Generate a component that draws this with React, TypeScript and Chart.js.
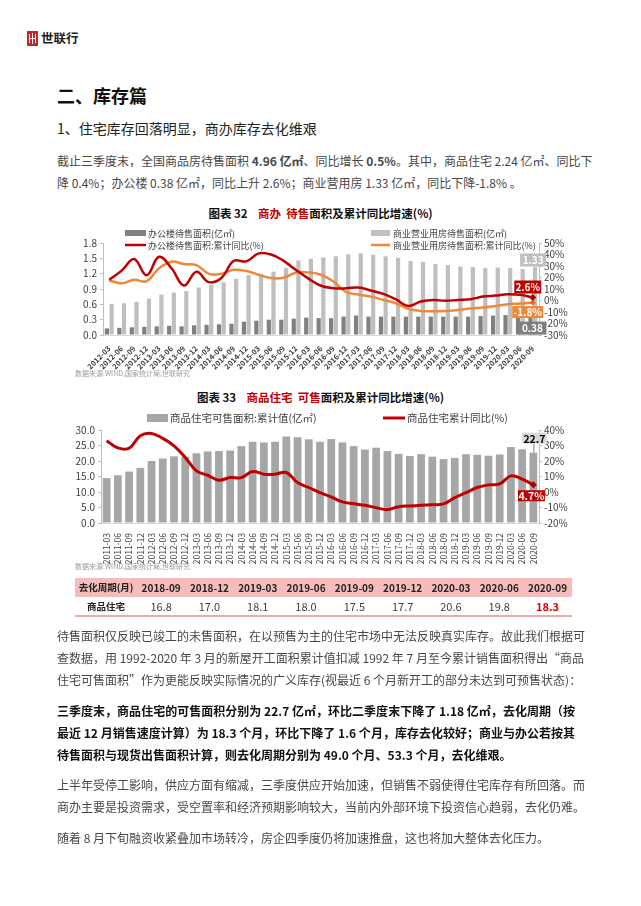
import React, { useEffect, useRef } from "react";
import { Chart, registerables } from "chart.js";
Chart.register(...registerables);

const FONT = '"Noto Sans CJK SC", "Noto Sans", sans-serif';
const TEXT = "#404040";

// ---------- Chart 32 data ----------
const quarters1 = [
  "2012-03", "2012-06", "2012-09", "2012-12",
  "2013-03", "2013-06", "2013-09", "2013-12",
  "2014-03", "2014-06", "2014-09", "2014-12",
  "2015-03", "2015-06", "2015-09", "2015-12",
  "2016-03", "2016-06", "2016-09", "2016-12",
  "2017-03", "2017-06", "2017-09", "2017-12",
  "2018-03", "2018-06", "2018-09", "2018-12",
  "2019-03", "2019-06", "2019-09", "2019-12",
  "2020-03", "2020-06", "2020-09",
];
const officeArea = [
  0.13, 0.14, 0.15, 0.16,
  0.17, 0.18, 0.17, 0.19,
  0.2, 0.21, 0.22, 0.26,
  0.28, 0.3, 0.3, 0.32,
  0.34, 0.33, 0.33, 0.36,
  0.38, 0.36, 0.36, 0.36,
  0.36, 0.36, 0.36, 0.36,
  0.36, 0.36, 0.37, 0.38,
  0.39, 0.38, 0.38,
];
const commercialArea = [
  0.61, 0.62, 0.65, 0.71,
  0.79, 0.83, 0.86, 0.93,
  0.98, 1.03, 1.1, 1.17,
  1.19, 1.24, 1.31, 1.46,
  1.49, 1.52, 1.54, 1.58,
  1.6, 1.57, 1.54, 1.51,
  1.45, 1.43, 1.39, 1.37,
  1.34, 1.33, 1.31, 1.32,
  1.31, 1.29, 1.33,
];
const officeYoY = [
  18, 26, 36, 22,
  38, 28, 13, 25,
  16, 19.5, 34.5, 34,
  41, 40, 34.5, 26.5,
  19, 12.8, 10.7, 10.6,
  11.3, 8.7, 5.8, 1.1,
  -4.7, -0.9, 0.5, -0.3,
  0.5, 1.1, 3.4, 4.3,
  5.5, 4.9, 2.6,
];
const commercialYoY = [
  17.4, 15, 18, 16.8,
  28, 33.7, 31.7, 30.8,
  23.2, 23.2, 26.7, 25.6,
  22.4, 19.5, 19.8, 24.4,
  24.4, 22.4, 16.5, 7.5,
  5.2, 3.4, 0.5, -2.4,
  -7.3, -9.1, -9.3, -9.1,
  -8.2, -7.0, -6.1, -4.7,
  -3.2, -2.7, -1.8,
];

// ---------- Chart 33 data ----------
const quarters2 = [
  "2011-03", "2011-06", "2011-09", "2011-12",
  "2012-03", "2012-06", "2012-09", "2012-12",
  "2013-03", "2013-06", "2013-09", "2013-12",
  "2014-03", "2014-06", "2014-09", "2014-12",
  "2015-03", "2015-06", "2015-09", "2015-12",
  "2016-03", "2016-06", "2016-09", "2016-12",
  "2017-03", "2017-06", "2017-09", "2017-12",
  "2018-03", "2018-06", "2018-09", "2018-12",
  "2019-03", "2019-06", "2019-09", "2019-12",
  "2020-03", "2020-06", "2020-09",
];
const resiArea = [
  14.5, 15.4, 16.6, 17.8,
  20.0, 20.8, 21.5, 21.4,
  22.5, 23.1, 23.2, 23.4,
  24.8, 26.2, 26.0, 26.2,
  27.9, 27.7, 27.0, 26.2,
  27.1, 26.0, 24.8, 23.7,
  24.3, 23.2, 22.3, 21.6,
  22.2, 21.4, 20.6, 21.0,
  22.2, 22.0, 21.7, 22.1,
  24.5, 23.8, 22.7,
];
const resiYoY = [
  33.1, 28.5, 28.2, 36.3,
  37.8, 34.6, 29.8, 22.3,
  13.6, 10.8, 7.6, 9.3,
  9.3, 13.2, 11.5, 11.5,
  12.6, 6.1, 2.9, -0.4,
  -3.2, -6.4, -7.6, -8.6,
  -10.1, -11.4, -9.5, -9.0,
  -8.6, -8.2, -7.7, -3.6,
  -0.4, 2.9, 4.6, 5.2,
  10.4, 8.3, 4.7,
];

// ---------- Table data ----------
const cycleHeader = "去化周期(月)";
const cycleRowLabel = "商品住宅";
const cycleQuarters = ["2018-09", "2018-12", "2019-03", "2019-06", "2019-09", "2019-12", "2020-03", "2020-06", "2020-09"];
const cycleValues = [16.8, 17.0, 18.1, 18.0, 17.5, 17.7, 20.6, 19.8, 18.3];

function drawBox(ctx: CanvasRenderingContext2D, cx: number, cy: number, w: number, h: number, bg: string, text: string, color: string, font: string) {
  ctx.save();
  ctx.fillStyle = bg;
  ctx.fillRect(cx - w / 2, cy - h / 2, w, h);
  ctx.fillStyle = color;
  ctx.font = font;
  ctx.textAlign = "center";
  ctx.textBaseline = "middle";
  ctx.fillText(text, cx, cy + 0.5);
  ctx.restore();
}

function legendText(ctx: CanvasRenderingContext2D, x: number, y: number, text: string, size: number) {
  ctx.save();
  ctx.fillStyle = TEXT;
  ctx.font = `${size}px ${FONT}`;
  ctx.textAlign = "left";
  ctx.textBaseline = "middle";
  ctx.fillText(text, x, y);
  ctx.restore();
}

function Chart32() {
  const ref = useRef<HTMLCanvasElement>(null);
  useEffect(() => {
    const last = quarters1.length - 1;
    const overlay = {
      id: "overlay32",
      afterDraw(chart: any) {
        const ctx = chart.ctx as CanvasRenderingContext2D;
        ctx.save();
        ctx.fillStyle = "#808080";
        ctx.fillRect(85, 5, 21, 6);
        ctx.fillStyle = "#bfbfbf";
        ctx.fillRect(331, 5, 19, 6);
        ctx.lineWidth = 2.5;
        ctx.strokeStyle = "#c00000";
        ctx.beginPath(); ctx.moveTo(85, 20); ctx.lineTo(106, 20); ctx.stroke();
        ctx.strokeStyle = "#f0883a";
        ctx.beginPath(); ctx.moveTo(331, 20); ctx.lineTo(350, 20); ctx.stroke();
        ctx.restore();
        legendText(ctx, 108, 8.5, "办公楼待售面积(亿㎡)", 9);
        legendText(ctx, 108, 20.5, "办公楼待售面积:累计同比(%)", 9);
        legendText(ctx, 353, 8.5, "商业营业用房待售面积(亿㎡)", 9);
        legendText(ctx, 353, 20.5, "商业营业用房待售面积:累计同比(%)", 9);
        const bOffice = chart.getDatasetMeta(0).data[last];
        const bComm = chart.getDatasetMeta(1).data[last];
        const pOffice = chart.getDatasetMeta(2).data[last];
        const pComm = chart.getDatasetMeta(3).data[last];
        const f = `bold 10px ${FONT}`;
        drawBox(ctx, bComm.x - 2, bComm.y - 7, 26, 13, "#bfbfbf", commercialArea[last].toFixed(2), "#ffffff", f);
        drawBox(ctx, bOffice.x + 2, bOffice.y + 12.5, 28, 13, "#7f7f7f", officeArea[last].toFixed(2), "#ffffff", f);
        drawBox(ctx, pOffice.x - 5, pOffice.y - 10.5, 27, 13, "#c00000", officeYoY[last].toFixed(1) + "%", "#ffffff", f);
        drawBox(ctx, pComm.x - 5, pComm.y + 9.5, 31, 12, "#f0883a", commercialYoY[last].toFixed(1) + "%", "#ffffff", f);
      },
    };
    const lastPoint = (arr: number[], r: number) => arr.map((_, i) => (i === arr.length - 1 ? r : 0));
    const chart = new Chart(ref.current as HTMLCanvasElement, {
      type: "bar",
      data: {
        labels: quarters1,
        datasets: [
          { type: "bar", label: "办公楼待售面积(亿㎡)", data: officeArea, backgroundColor: "#808080", yAxisID: "y", order: 2, categoryPercentage: 0.75, barPercentage: 0.9 },
          { type: "bar", label: "商业营业用房待售面积(亿㎡)", data: commercialArea, backgroundColor: "#bfbfbf", yAxisID: "y", order: 2, categoryPercentage: 0.75, barPercentage: 0.9 },
          { type: "line", label: "办公楼待售面积:累计同比(%)", data: officeYoY, borderColor: "#c00000", backgroundColor: "#a00000", borderWidth: 2.5, tension: 0.4, yAxisID: "y1", order: 0, pointRadius: lastPoint(officeYoY, 3.5), pointStyle: "rectRot", pointBorderWidth: 0 },
          { type: "line", label: "商业营业用房待售面积:累计同比(%)", data: commercialYoY, borderColor: "#f0883a", backgroundColor: "#e07020", borderWidth: 2.5, tension: 0.4, yAxisID: "y1", order: 1, pointRadius: lastPoint(commercialYoY, 3), pointStyle: "rectRot", pointBorderWidth: 0 },
        ] as any,
      },
      options: {
        responsive: false,
        animation: false,
        layout: { padding: { top: 18, left: 0, right: 0, bottom: 0 } },
        plugins: { legend: { display: false }, tooltip: { enabled: false } },
        scales: {
          x: {
            grid: { display: false },
            border: { display: true, color: "#d9d9d9" },
            ticks: { autoSkip: false, minRotation: 45, maxRotation: 45, padding: 1, color: TEXT, font: { family: FONT, size: 7.5, weight: "bold" } },
            afterFit: (s: any) => { s.height = 35; },
          },
          y: {
            position: "left",
            min: 0,
            max: 1.8,
            ticks: { autoSkip: false, stepSize: 0.3, padding: 3, color: TEXT, font: { family: FONT, size: 10 }, callback: (v: any) => Number(v).toFixed(1) },
            grid: { drawOnChartArea: false, tickLength: 3, color: "#bfbfbf" },
            border: { display: true, color: "#bfbfbf" },
            afterFit: (s: any) => { s.width = 63; },
          },
          y1: {
            position: "right",
            min: -30,
            max: 50,
            ticks: { autoSkip: false, stepSize: 10, padding: 2, color: TEXT, font: { family: FONT, size: 10 }, callback: (v: any) => Math.round(Number(v)) + "%" },
            grid: { drawOnChartArea: false, tickLength: 3, color: "#bfbfbf" },
            border: { display: true, color: "#bfbfbf" },
            afterFit: (s: any) => { s.width = 61; },
          },
        },
      } as any,
      plugins: [overlay],
    });
    return () => chart.destroy();
  }, []);
  return <canvas ref={ref} width={560} height={145} style={{ position: "absolute", left: 40, top: 225 }} />;
}

function Chart33() {
  const ref = useRef<HTMLCanvasElement>(null);
  useEffect(() => {
    const last = quarters2.length - 1;
    const overlay = {
      id: "overlay33",
      afterDraw(chart: any) {
        const ctx = chart.ctx as CanvasRenderingContext2D;
        ctx.save();
        ctx.fillStyle = "#a6a6a6";
        ctx.fillRect(107, 6, 21, 8);
        ctx.strokeStyle = "#c00000";
        ctx.lineWidth = 3;
        ctx.beginPath(); ctx.moveTo(343, 10); ctx.lineTo(365, 10); ctx.stroke();
        ctx.restore();
        legendText(ctx, 130, 10.5, "商品住宅可售面积:累计值(亿㎡)", 10.5);
        legendText(ctx, 367, 10.5, "商品住宅累计同比(%)", 10.5);
        const b = chart.getDatasetMeta(0).data[last];
        const p = chart.getDatasetMeta(1).data[last];
        ctx.save();
        ctx.strokeStyle = "#7f7f7f";
        ctx.lineWidth = 1;
        ctx.beginPath(); ctx.moveTo(b.x + 0.5, b.y - 9); ctx.lineTo(b.x + 0.5, b.y); ctx.stroke();
        ctx.restore();
        drawBox(ctx, b.x + 1, b.y - 14.5, 25, 11, "#d9d9d9", resiArea[last].toFixed(1), "#000000", `bold 10.5px ${FONT}`);
        drawBox(ctx, p.x - 2, p.y + 11, 27, 11, "#c00000", resiYoY[last].toFixed(1) + "%", "#ffffff", `bold 10.5px ${FONT}`);
      },
    };
    const chart = new Chart(ref.current as HTMLCanvasElement, {
      type: "bar",
      data: {
        labels: quarters2,
        datasets: [
          { type: "bar", label: "商品住宅可售面积:累计值(亿㎡)", data: resiArea, backgroundColor: "#a6a6a6", yAxisID: "y", order: 2, categoryPercentage: 0.69, barPercentage: 1 },
          { type: "line", label: "商品住宅累计同比(%)", data: resiYoY, borderColor: "#c00000", backgroundColor: "#a00000", borderWidth: 3, tension: 0.4, yAxisID: "y1", order: 0, pointRadius: resiYoY.map((_, i) => (i === resiYoY.length - 1 ? 3.5 : 0)), pointStyle: "rectRot", pointBorderWidth: 0 },
        ] as any,
      },
      options: {
        responsive: false,
        animation: false,
        layout: { padding: { top: 22, left: 0, right: 0, bottom: 0 } },
        plugins: { legend: { display: false }, tooltip: { enabled: false } },
        scales: {
          x: {
            grid: { display: false },
            border: { display: true, color: "#d9d9d9" },
            ticks: { autoSkip: false, minRotation: 90, maxRotation: 90, padding: 2, color: TEXT, font: { family: FONT, size: 8.5 } },
            afterFit: (s: any) => { s.height = 42; },
          },
          y: {
            position: "left",
            min: 0,
            max: 30,
            ticks: { autoSkip: false, stepSize: 5, padding: 3, color: TEXT, font: { family: FONT, size: 10 }, callback: (v: any) => Number(v).toFixed(1) },
            grid: { drawOnChartArea: false, tickLength: 3, color: "#bfbfbf" },
            border: { display: true, color: "#bfbfbf" },
            afterFit: (s: any) => { s.width = 61; },
          },
          y1: {
            position: "right",
            min: -20,
            max: 40,
            ticks: { autoSkip: false, stepSize: 10, padding: 2, color: TEXT, font: { family: FONT, size: 10 }, callback: (v: any) => Math.round(Number(v)) + "%" },
            grid: { drawOnChartArea: false, tickLength: 3, color: "#bfbfbf" },
            border: { display: true, color: "#bfbfbf" },
            afterFit: (s: any) => { s.width = 61; },
          },
        },
      } as any,
      plugins: [overlay],
    });
    return () => chart.destroy();
  }, []);
  return <canvas ref={ref} width={560} height={157} style={{ position: "absolute", left: 40, top: 408 }} />;
}

const abs = (left: number, top: number, extra: React.CSSProperties = {}): React.CSSProperties => ({
  position: "absolute",
  left,
  top,
  whiteSpace: "nowrap",
  ...extra,
});

function Line({ top, text, full, bold, color }: { top: number; text: React.ReactNode; full?: boolean; bold?: boolean; color?: string }) {
  return (
    <div
      style={abs(57, top, {
        width: 518,
        fontSize: 12,
        lineHeight: "16px",
        color: color || "#474747",
        fontWeight: bold ? 700 : 400,
        textAlign: full ? "justify" : "left",
        textAlignLast: full ? "justify" : "left",
        whiteSpace: "nowrap",
      } as any)}
    >
      {text}
    </div>
  );
}

export default function App() {
  const colLeft = 75;
  const firstW = 62;
  const colW = 48.3;
  return (
    <div style={{ position: "absolute", left: 0, top: 0, width: 641, height: 906, background: "#fff", fontFamily: FONT, overflow: "hidden" }}>
      <div style={abs(27, 31, { width: 11, height: 15, background: "#c1272d" })}>
        <div style={{ position: "absolute", left: 2, top: 3, width: 1, height: 9, background: "#fff" }} />
        <div style={{ position: "absolute", left: 5, top: 2, width: 1, height: 11, background: "#fff" }} />
        <div style={{ position: "absolute", left: 8, top: 3, width: 1, height: 9, background: "#fff" }} />
        <div style={{ position: "absolute", left: 2, top: 7, width: 7, height: 1, background: "#fff" }} />
      </div>
      <div style={abs(41, 30, { fontSize: 12.5, lineHeight: "16px", fontWeight: 700, color: "#222" })}>世联行</div>

      <div style={abs(57, 85, { fontSize: 18, lineHeight: "20px", fontWeight: 700, color: "#111" })}>二、库存篇</div>
      <div style={abs(57, 119, { fontSize: 14, lineHeight: "18px", color: "#222" })}>1、住宅库存回落明显，商办库存去化维艰</div>

      <Line top={153} full text={<>截止三季度末，全国商品房待售面积 <b>4.96 亿㎡</b>、同比增长 <b>0.5%</b>。其中，商品住宅 2.24 亿㎡、同比下</>} />
      <Line top={175} text="降 0.4%；办公楼 0.38 亿㎡，同比上升 2.6%；商业营用房 1.33 亿㎡，同比下降-1.8% 。" />

      <div style={abs(0, 206, { width: 641, textAlign: "center", fontSize: 11.5, lineHeight: "14px", fontWeight: 700, color: "#111" })}>
        图表 32&nbsp;&nbsp;&nbsp;&nbsp;<span style={{ color: "#c00000" }}>商办</span>&nbsp;&nbsp;<span style={{ color: "#c00000" }}>待售</span>面积及累计同比增速(%)
      </div>
      <Chart32 />
      <div style={abs(75, 368, { fontSize: 7, lineHeight: "10px", color: "#9a9a9a" })}>数据来源:WIND,国家统计局,世联研究</div>

      <div style={abs(0, 390, { width: 641, textAlign: "center", fontSize: 11.5, lineHeight: "14px", fontWeight: 700, color: "#111" })}>
        图表 33&nbsp;&nbsp;&nbsp;&nbsp;<span style={{ color: "#c00000" }}>商品住宅</span>&nbsp;&nbsp;<span style={{ color: "#c00000" }}>可售</span>面积及累计同比增速(%)
      </div>
      <Chart33 />
      <div style={abs(75, 561, { fontSize: 7, lineHeight: "10px", color: "#9a9a9a" })}>数据来源:WIND,国家统计局,世联研究</div>

      <div style={abs(colLeft, 578, { width: firstW + colW * 9, height: 19, background: "#f6bcbc" })} />
      <div style={abs(colLeft, 615, { width: firstW + colW * 9, height: 2, background: "#f2a9a9" })} />
      <div style={abs(colLeft, 578, { width: firstW, textAlign: "center", fontSize: 9.5, lineHeight: "19px", fontWeight: 700, color: "#222" })}>{cycleHeader}</div>
      <div style={abs(colLeft, 597, { width: firstW, textAlign: "center", fontSize: 9.5, lineHeight: "18px", fontWeight: 700, color: "#222" })}>{cycleRowLabel}</div>
      {cycleQuarters.map((q, i) => (
        <div key={q} style={abs(colLeft + firstW + colW * i, 578, { width: colW, textAlign: "center", fontSize: 10, lineHeight: "19px", fontWeight: 700, color: "#222" })}>{q}</div>
      ))}
      {cycleValues.map((v, i) => (
        <div
          key={"v" + i}
          style={abs(colLeft + firstW + colW * i, 597, {
            width: colW,
            textAlign: "center",
            fontSize: 11,
            lineHeight: "18px",
            fontWeight: i === cycleValues.length - 1 ? 700 : 400,
            color: i === cycleValues.length - 1 ? "#e00000" : "#404040",
          })}
        >
          {v.toFixed(1)}
        </div>
      ))}

      <Line top={628} full text="待售面积仅反映已竣工的未售面积，在以预售为主的住宅市场中无法反映真实库存。故此我们根据可" />
      <Line top={650} full text="查数据，用 1992-2020 年 3 月的新屋开工面积累计值扣减 1992 年 7 月至今累计销售面积得出“商品" />
      <Line top={672} text="住宅可售面积”作为更能反映实际情况的广义库存(视最近 6 个月新开工的部分未达到可预售状态)：" />

      <Line top={703} full bold color="#111" text="三季度末，商品住宅的可售面积分别为 22.7 亿㎡，环比二季度末下降了 1.18 亿㎡，去化周期（按" />
      <Line top={725} full bold color="#111" text="最近 12 月销售速度计算）为 18.3 个月，环比下降了 1.6 个月，库存去化较好；商业与办公若按其" />
      <Line top={747} bold color="#111" text="待售面积与现货出售面积计算，则去化周期分别为 49.0 个月、53.3 个月，去化维艰。" />

      <Line top={777} full text="上半年受停工影响，供应方面有缩减，三季度供应开始加速，但销售不弱使得住宅库存有所回落。而" />
      <Line top={799} text="商办主要是投资需求，受空置率和经济预期影响较大，当前内外部环境下投资信心趋弱，去化仍难。" />

      <Line top={830} text="随着 8 月下旬融资收紧叠加市场转冷，房企四季度仍将加速推盘，这也将加大整体去化压力。" />
    </div>
  );
}
